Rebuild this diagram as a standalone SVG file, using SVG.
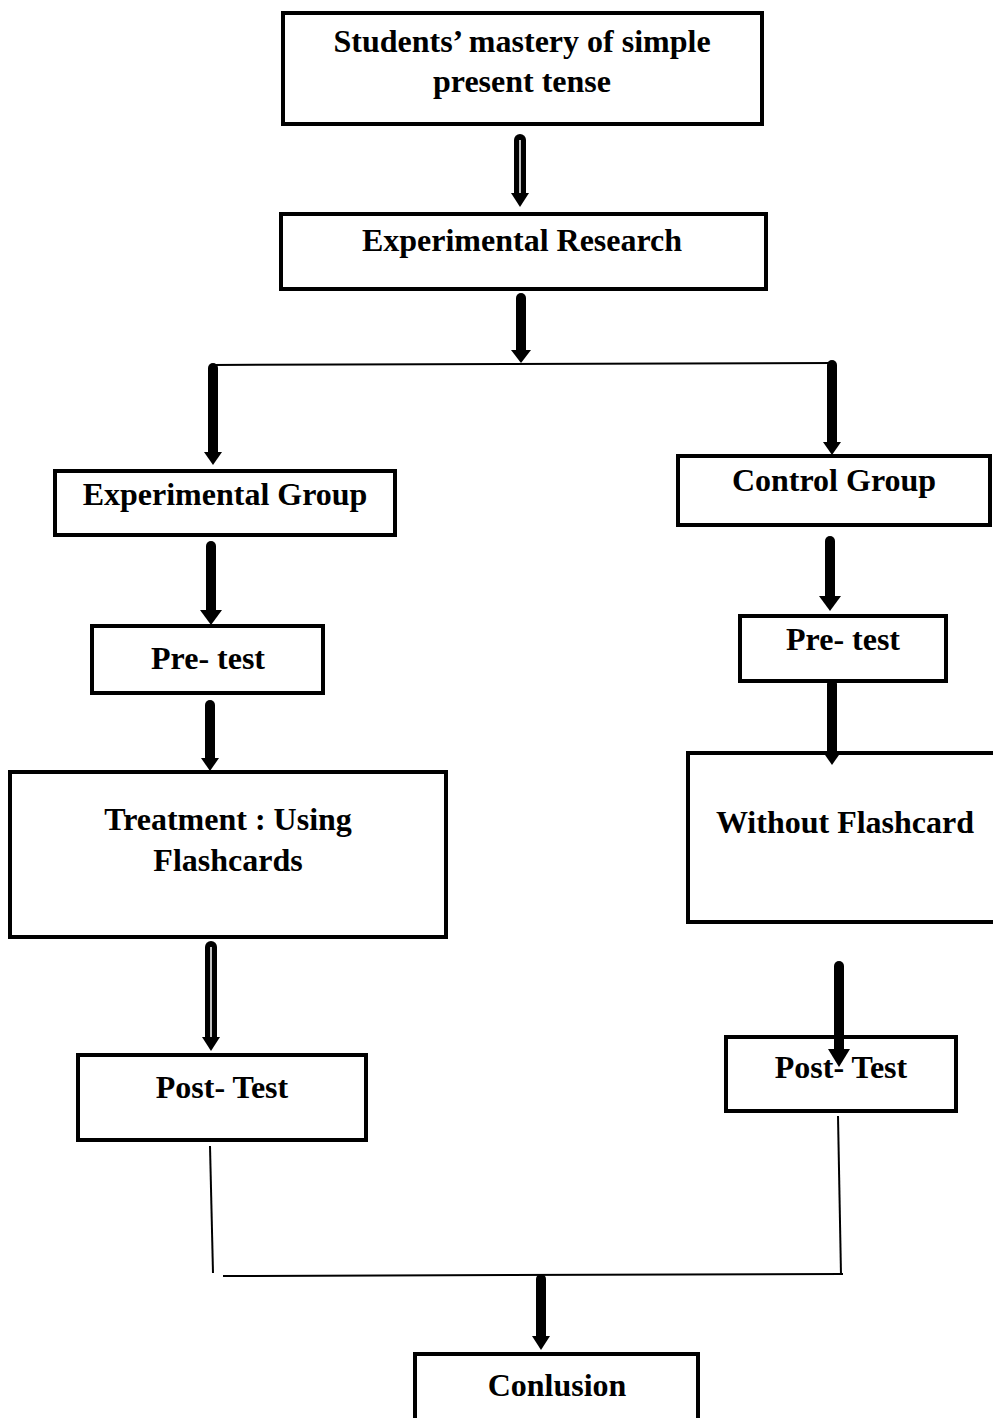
<svg xmlns="http://www.w3.org/2000/svg" width="993" height="1418" viewBox="0 0 993 1418">
<defs>
<style>
.box{fill:#fff;stroke:#000;stroke-width:4}
.t{font-family:"Liberation Serif","Times New Roman",serif;font-weight:bold;font-size:32px;fill:#000;text-anchor:middle}
.solid{stroke:#000;stroke-width:10;stroke-linecap:round;fill:none}
.hol{stroke:#000;stroke-width:12;stroke-linecap:round;fill:none}
.holin{stroke:#fff;stroke-width:1.5;fill:none}
.thin{stroke:#000;stroke-width:2;fill:none}
.head{fill:#000}
</style>
</defs>
<rect width="993" height="1418" fill="#fff"/>
<g id="n1"><rect class="box" x="283" y="13" width="479" height="111"/>
<text class="t" x="522" y="52">Students’ mastery of simple</text>
<text class="t" x="522" y="92">present tense</text></g>
<g id="n2"><rect class="box" x="281" y="214" width="485" height="75"/>
<text class="t" x="522" y="251">Experimental Research</text></g>
<g id="n3"><rect class="box" x="55" y="471" width="340" height="64"/>
<text class="t" x="225" y="505">Experimental Group</text></g>
<g id="n4"><rect class="box" x="678" y="456" width="312" height="69"/>
<text class="t" x="834" y="491">Control Group</text></g>
<g id="n5"><rect class="box" x="92" y="626" width="231" height="67"/>
<text class="t" x="208" y="669">Pre- test</text></g>
<g id="n6"><rect class="box" x="740" y="616" width="206" height="65"/>
<text class="t" x="843" y="650">Pre- test</text></g>
<g id="n7"><rect class="box" x="10" y="772" width="436" height="165"/>
<text class="t" x="228" y="830">Treatment : Using</text>
<text class="t" x="228" y="871">Flashcards</text></g>
<g id="n8"><rect class="box" x="688" y="753" width="310" height="169"/>
<text class="t" x="845" y="833">Without Flashcard</text></g>
<g id="n9"><rect class="box" x="78" y="1055" width="288" height="85"/>
<text class="t" x="222" y="1098">Post- Test</text></g>
<g id="n10"><rect class="box" x="726" y="1037" width="230" height="74"/>
<text class="t" x="841" y="1078">Post- Test</text></g>
<g id="n11"><rect class="box" x="415" y="1354" width="283" height="70"/>
<text class="t" x="557" y="1396">Conlusion</text></g>
<g id="connectors">
  <line class="hol" x1="520" y1="140" x2="520" y2="194"/>
  <line class="holin" x1="520" y1="140" x2="520" y2="198"/>
  <polygon class="head" points="511,193 529,193 520,207"/>
  <line class="solid" x1="521" y1="298" x2="521" y2="352"/>
  <polygon class="head" points="511,350 531,350 521,363"/>
  <line class="thin" x1="212" y1="365" x2="834" y2="363"/>
  <line class="solid" x1="213" y1="368" x2="213" y2="455"/>
  <polygon class="head" points="204,452 222,452 213,465"/>
  <line class="solid" x1="832" y1="365" x2="832" y2="444"/>
  <polygon class="head" points="823,442 841,442 832,455"/>
  <line class="solid" x1="211" y1="546" x2="211" y2="612"/>
  <polygon class="head" points="200,610 222,610 211,625"/>
  <line class="solid" x1="210" y1="705" x2="210" y2="760"/>
  <polygon class="head" points="201,758 219,758 210,771"/>
  <line class="hol" x1="211" y1="947" x2="211" y2="1038"/>
  <line class="holin" x1="211" y1="947" x2="211" y2="1042"/>
  <polygon class="head" points="202,1037 220,1037 211,1051"/>
  <line class="solid" x1="830" y1="541" x2="830" y2="598"/>
  <polygon class="head" points="819,596 841,596 830,611"/>
  <line class="solid" x1="832" y1="684" x2="832" y2="754"/>
  <polygon class="head" points="823,752 841,752 832,765"/>
  <line class="solid" x1="839" y1="966" x2="839" y2="1052"/>
  <polygon class="head" points="828,1049 850,1049 839,1067"/>
  <line class="thin" x1="210" y1="1146" x2="213" y2="1273"/>
  <line class="thin" x1="838" y1="1116" x2="841" y2="1275"/>
  <line class="thin" x1="223" y1="1276" x2="843" y2="1274"/>
  <line class="solid" x1="541" y1="1279" x2="541" y2="1338"/>
  <polygon class="head" points="532,1336 550,1336 541,1350"/>
</g>
</svg>
